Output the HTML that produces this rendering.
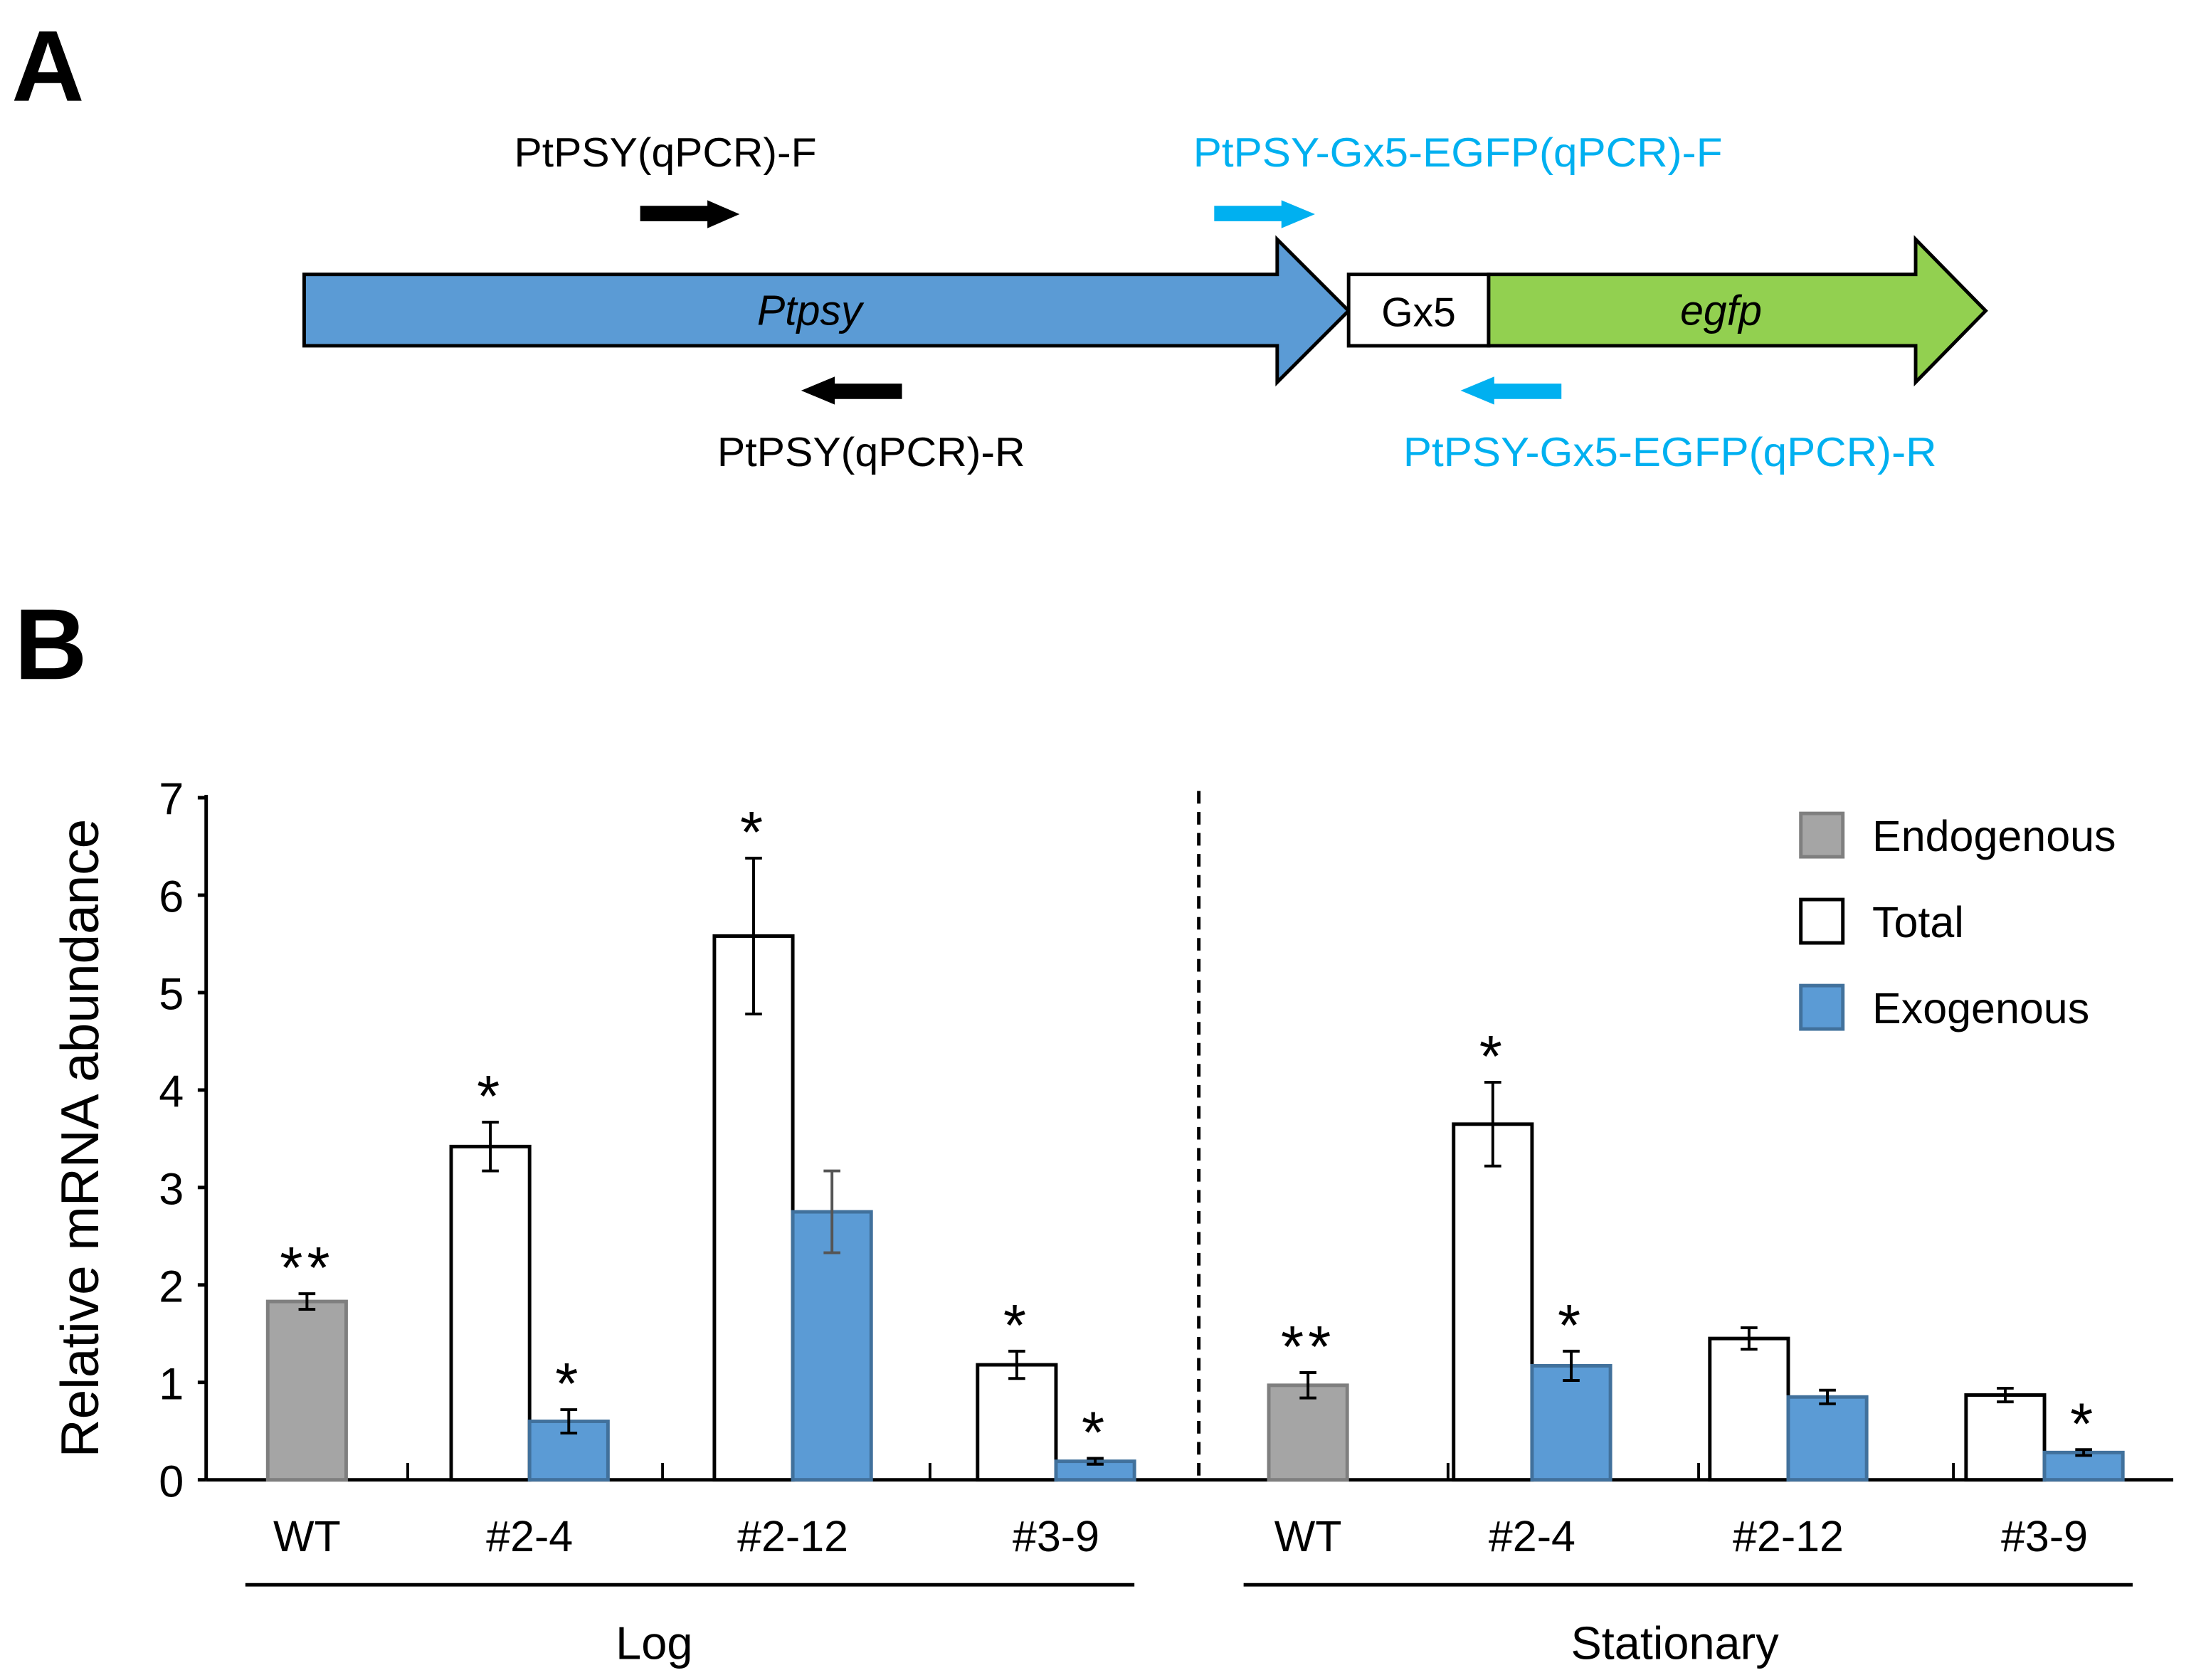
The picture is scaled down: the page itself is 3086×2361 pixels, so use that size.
<!DOCTYPE html>
<html><head><meta charset="utf-8"><style>
html,body{margin:0;padding:0;background:#fff}
svg{display:block}
text{font-family:"Liberation Sans",sans-serif}
</style></head><body>
<svg id="fig" width="3086" height="2361" viewBox="0 0 1568 1200" xmlns="http://www.w3.org/2000/svg">
<g>
<text x="8" y="72" font-size="72" font-weight="bold">A</text>
<text x="367" y="119" font-size="29" textLength="216" lengthAdjust="spacingAndGlyphs">PtPSY(qPCR)-F</text>
<text x="852" y="119" font-size="29" fill="#00b0f0" textLength="378" lengthAdjust="spacingAndGlyphs">PtPSY-Gx5-EGFP(qPCR)-F</text>
<text x="512" y="333" font-size="29" textLength="220" lengthAdjust="spacingAndGlyphs">PtPSY(qPCR)-R</text>
<text x="1002" y="333" font-size="29" fill="#00b0f0" textLength="381" lengthAdjust="spacingAndGlyphs">PtPSY-Gx5-EGFP(qPCR)-R</text>
<polygon points="457,147 505,147 505,143 528,153 505,163 505,158 457,158" fill="#000"/>
<polygon points="867,147 915,147 915,143 939,153 915,163 915,158 867,158" fill="#00b0f0"/>
<polygon points="644,274 596,274 596,269 572,279 596,289 596,285 644,285" fill="#000"/>
<polygon points="1115,274 1067,274 1067,269 1043,279 1067,289 1067,285 1115,285" fill="#00b0f0"/>
<polygon points="217,196 912,196 912,171 963,222 912,273 912,247 217,247" fill="#5b9bd5" stroke="#000" stroke-width="2.5"/>
<text x="578" y="232" font-size="30" font-style="italic" text-anchor="middle">Ptpsy</text>
<rect x="963" y="196" width="100" height="51" fill="#fff" stroke="#000" stroke-width="2.5"/>
<text x="1013" y="233" font-size="29" text-anchor="middle">Gx5</text>
<polygon points="1063,196 1368,196 1368,171 1418,222 1368,273 1368,247 1063,247" fill="#92d050" stroke="#000" stroke-width="2.5"/>
<text x="1229" y="232" font-size="30" font-style="italic" text-anchor="middle">egfp</text>
</g>
<text x="10" y="485" font-size="72" font-weight="bold">B</text>
<g id="chart"></g>
</svg>
<script>
const categories = ["WT","#2-4","#2-12","#3-9","WT","#2-4","#2-12","#3-9"];
const phases = ["Log","Stationary"];
const endogenous = [1.83,null,null,null,0.97,null,null,null];
const endogenousErr = [0.08,null,null,null,0.13,null,null,null];
const total = [null,3.42,5.58,1.18,null,3.65,1.45,0.87];
const totalErr = [null,0.25,0.8,0.14,null,0.43,0.11,0.07];
const exogenous = [null,0.6,2.75,0.19,null,1.17,0.85,0.28];
const exogenousErr = [null,0.12,0.42,0.03,null,0.15,0.07,0.03];
const endoStars = ["**","","","","**","","",""];
const totalStars = ["","*","*","*","","*","",""];
const exoStars = ["","*","","*","","*","","*"];
const yTicks = [0,1,2,3,4,5,6,7];
const legendLabels = ["Endogenous","Total","Exogenous"];

const NS="http://www.w3.org/2000/svg";
const g=document.getElementById('chart');
const Y0=1057, PER=69.6, AX=147, AXEND=1552, BW=56;
function y(v){return Y0-v*PER;}
function xc(i){ if(i<4) return i===0?219:378+188*(i-1); const k=i-4; return k===0?934:1094+183*(k-1); }
function mk(tag,attrs,name,parent){const e=document.createElementNS(NS,tag);for(const k in attrs)e.setAttribute(k,attrs[k]);(parent||g).appendChild(e);return e;}

mk('line',{x1:AX,y1:y(7)-2,x2:AX,y2:Y0,stroke:'#000','stroke-width':2.5},'y-axis');
mk('line',{x1:AX,y1:Y0,x2:AXEND,y2:Y0,stroke:'#000','stroke-width':2.5},'x-axis');
yTicks.forEach(t=>{
  mk('line',{x1:AX-6,y1:y(t),x2:AX,y2:y(t),stroke:'#000','stroke-width':2.5},'y-tick');
  const tx=mk('text',{x:131,y:y(t)+12,'font-size':32,'text-anchor':'end'},'y-tick-label');
  tx.textContent=t;
});
[291,473,664,1034,1213,1395].forEach(px=>mk('line',{x1:px,y1:Y0-12,x2:px,y2:Y0,stroke:'#000','stroke-width':2},'x-group-tick'));
mk('line',{x1:856,y1:565,x2:856,y2:Y0,stroke:'#000','stroke-width':2.5,'stroke-dasharray':'9,6'},'phase-divider');
const yt=mk('text',{x:0,y:0,'font-size':38,'text-anchor':'middle',transform:'translate(70,813) rotate(-90)'},'y-axis-title');
yt.textContent='Relative mRNA abundance';

function errBar(cx,v,e,color){
  mk('line',{x1:cx,y1:y(v+e),x2:cx,y2:y(v-e),stroke:color,'stroke-width':2},'error-bar');
  mk('line',{x1:cx-6,y1:y(v+e),x2:cx+6,y2:y(v+e),stroke:color,'stroke-width':2},'error-cap');
  mk('line',{x1:cx-6,y1:y(v-e),x2:cx+6,y2:y(v-e),stroke:color,'stroke-width':2},'error-cap');
}
function star(cx,v,e,s){ if(!s) return; const t=mk('text',{x:cx,y:y(v+e)-4,'font-size':42,'text-anchor':'middle','letter-spacing':'3'},'significance-star'); t.textContent=s; }

categories.forEach((c,i)=>{
  const cx=xc(i);
  if(endogenous[i]!=null){
    const v=endogenous[i];
    mk('rect',{x:cx-BW/2,y:y(v),width:BW,height:Y0-y(v),fill:'#a5a5a5',stroke:'#7f7f7f','stroke-width':2.5},'bar-endogenous');
    errBar(cx,v,endogenousErr[i],'#000'); star(cx,v,endogenousErr[i],endoStars[i]);
  }
  if(total[i]!=null){
    const v=total[i], bx=cx-BW;
    mk('rect',{x:bx,y:y(v),width:BW,height:Y0-y(v),fill:'#fff',stroke:'#000','stroke-width':2.5},'bar-total');
    errBar(bx+BW/2,v,totalErr[i],'#000'); star(bx+BW/2,v,totalErr[i],totalStars[i]);
  }
  if(exogenous[i]!=null){
    const v=exogenous[i], bx=cx;
    mk('rect',{x:bx,y:y(v),width:BW,height:Y0-y(v),fill:'#5b9bd5',stroke:'#41719c','stroke-width':2.5},'bar-exogenous');
    errBar(bx+BW/2,v,exogenousErr[i],i===2?'#555':'#000'); star(bx+BW/2,v,exogenousErr[i],exoStars[i]);
  }
  const lb=mk('text',{x:cx,y:1108,'font-size':31,'text-anchor':'middle'},'x-category-label'); lb.textContent=c;
});
[[175,810,467],[888,1523,1196]].forEach((p,k)=>{
  mk('line',{x1:p[0],y1:1132,x2:p[1],y2:1132,stroke:'#000','stroke-width':2.5},'phase-bracket');
  const t=mk('text',{x:p[2],y:1185,'font-size':33,'text-anchor':'middle'},'phase-label'); t.textContent=phases[k];
});
const lf=[['#a5a5a5','#7f7f7f'],['#fff','#000'],['#5b9bd5','#41719c']];
legendLabels.forEach((l,k)=>{
  const top=581+k*61.5;
  mk('rect',{x:1286,y:top,width:30,height:31,fill:lf[k][0],stroke:lf[k][1],'stroke-width':2.5},'legend-swatch');
  const t=mk('text',{x:1337,y:top+27,'font-size':31},'legend-entry'); t.textContent=l;
});
</script>
</body></html>
